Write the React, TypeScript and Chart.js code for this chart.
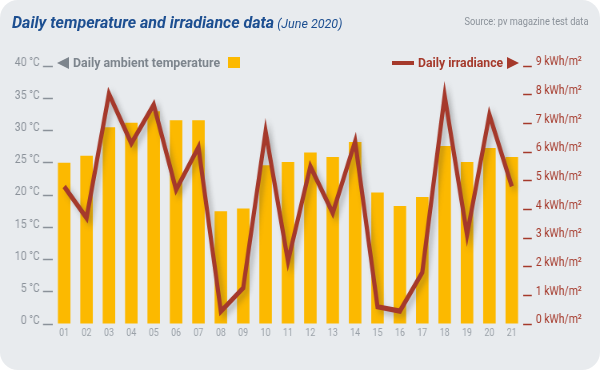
import React, { useEffect, useRef } from "react";
import { Chart, registerables } from "chart.js";

Chart.register(...registerables);

const days = ["01","02","03","04","05","06","07","08","09","10","11","12","13","14","15","16","17","18","19","20","21"];
const temperature = [25, 26.1, 30.5, 31.2, 33, 31.6, 31.6, 17.5, 17.9, 24.6, 25.1, 26.6, 25.9, 28.2, 20.4, 18.3, 19.7, 27.6, 25.1, 27.3, 25.9];
const irradiance = [4.8, 3.7, 8.03, 6.3, 7.65, 4.68, 6.17, 0.44, 1.26, 6.72, 2.19, 5.5, 3.87, 6.37, 0.6, 0.45, 1.8, 7.96, 3.11, 7.3, 4.8];
const tempTicks = { min: 0, max: 40, step: 5 };
const irrTicks = { min: 0, max: 9, step: 1 };

// horizontal condensing factor (emulates a condensed typeface)
const SX = 0.8;
const W = 600 / SX;

const FONT = "Roboto, 'Noto Sans', sans-serif";
const GRAY = "#8a9199";
const RED = "#a5392b";
const YELLOW = "#fcb900";

const shadowPlugin = {
  id: "lineShadow",
  beforeDatasetDraw(chart: any, args: any) {
    if (args.meta.type === "line") {
      const ctx = chart.ctx;
      ctx.save();
      ctx.shadowColor = "rgba(60,60,60,0.35)";
      ctx.shadowBlur = 6;
      ctx.shadowOffsetX = 4;
      ctx.shadowOffsetY = 3.5;
    }
  },
  afterDatasetDraw(chart: any, args: any) {
    if (args.meta.type === "line") chart.ctx.restore();
  },
};

export default function App() {
  const ref = useRef<HTMLCanvasElement | null>(null);
  useEffect(() => {
    document.body.style.margin = "0";
    const chart = new Chart(ref.current!, {
      type: "bar",
      data: {
        labels: days,
        datasets: [
          {
            type: "line",
            label: "Daily irradiance",
            data: irradiance,
            yAxisID: "y1",
            borderColor: RED,
            borderWidth: 5.2,
            pointRadius: 0,
            tension: 0,
            borderJoinStyle: "miter",
            order: 0,
          } as any,
          {
            type: "bar",
            label: "Daily ambient temperature",
            data: temperature,
            yAxisID: "y",
            backgroundColor: YELLOW,
            barPercentage: 0.56,
            categoryPercentage: 1,
            order: 1,
          },
        ],
      },
      options: {
        responsive: false,
        animation: false,
        layout: { padding: { top: 66, bottom: 26, left: 0, right: 0 } },
        plugins: { legend: { display: false }, tooltip: { enabled: false } },
        scales: {
          x: {
            grid: { display: false, drawTicks: false },
            border: { display: false },
            ticks: { color: "#9aa1a8", font: { family: FONT, size: 11 }, padding: 3, maxRotation: 0 },
            afterFit: (s: any) => { s.height = 20; },
          },
          y: {
            position: "left",
            min: tempTicks.min,
            max: tempTicks.max,
            ticks: {
              stepSize: tempTicks.step,
              color: GRAY,
              font: { family: FONT, size: 13 },
              padding: 4,
              labelOffset: -3,
              callback: (v: any) => `${v} °C`,
            },
            grid: { drawOnChartArea: false, drawTicks: true, tickLength: 12.5, tickWidth: 1.5, tickColor: GRAY },
            border: { display: false },
            afterFit: (s: any) => { s.width = 53 / SX; },
          },
          y1: {
            position: "right",
            min: irrTicks.min,
            max: irrTicks.max,
            ticks: {
              stepSize: irrTicks.step,
              color: RED,
              font: { family: FONT, size: 13 },
              padding: 5,
              labelOffset: -4,
              callback: (v: any) => `${v} kWh/m²`,
            },
            grid: { drawOnChartArea: false, drawTicks: true, tickLength: 11, tickWidth: 1.5, tickColor: RED },
            border: { display: false },
            afterFit: (s: any) => { s.width = 77 / SX; },
          },
        },
      },
      plugins: [shadowPlugin],
    });
    return () => chart.destroy();
  }, []);

  const abs = (o: React.CSSProperties): React.CSSProperties => ({ position: "absolute", whiteSpace: "nowrap", ...o });

  return (
    <div style={{ position: "fixed", left: 0, top: 0, width: 600, height: 370, background: "#fff", overflow: "hidden" }}>
      <div style={{ position: "absolute", left: 0, top: 0, width: 600, height: 370, background: "#e8ebee", borderRadius: 18 }} />
      <div style={{ position: "absolute", left: 0, top: 0, width: W, height: 370, transform: `scaleX(${SX})`, transformOrigin: "0 0" }}>
        <canvas ref={ref} width={W} height={370} style={{ display: "block" }} />
      </div>
      <div style={abs({ left: 12, top: 13, fontFamily: FONT, fontSize: 16, lineHeight: "20px", color: "#1d4f91" })}>
        <span style={{ fontWeight: "bold", fontStyle: "italic" }}>Daily temperature and irradiance data</span>
        <span style={{ fontStyle: "italic", fontSize: 12.5 }}> (June 2020)</span>
      </div>
      <div style={abs({ right: 12, top: 14, fontFamily: FONT, fontSize: 11, lineHeight: "16px", color: "#8a9199", transform: "scaleX(0.84)", transformOrigin: "100% 0" })}>
        Source: pv magazine test data
      </div>
      <div style={abs({ left: 57, top: 57, width: 0, height: 0, borderTop: "6px solid transparent", borderBottom: "6px solid transparent", borderRight: "12px solid #7d858d" })} />
      <div style={abs({ left: 73, top: 53, fontFamily: FONT, fontSize: 13, fontWeight: "bold", lineHeight: "20px", color: "#7d858d", transform: "scaleX(0.95)", transformOrigin: "0 0" })}>
        Daily ambient temperature
      </div>
      <div style={abs({ left: 228, top: 57, width: 12, height: 11, background: YELLOW })} />
      <div style={abs({ left: 392, top: 61, width: 22, height: 4, background: RED })} />
      <div style={abs({ left: 418, top: 53, fontFamily: FONT, fontSize: 13, fontWeight: "bold", lineHeight: "20px", color: RED, transform: "scaleX(0.94)", transformOrigin: "0 0" })}>
        Daily irradiance
      </div>
      <div style={abs({ left: 507, top: 57, width: 0, height: 0, borderTop: "6px solid transparent", borderBottom: "6px solid transparent", borderLeft: "12px solid " + RED })} />
    </div>
  );
}
